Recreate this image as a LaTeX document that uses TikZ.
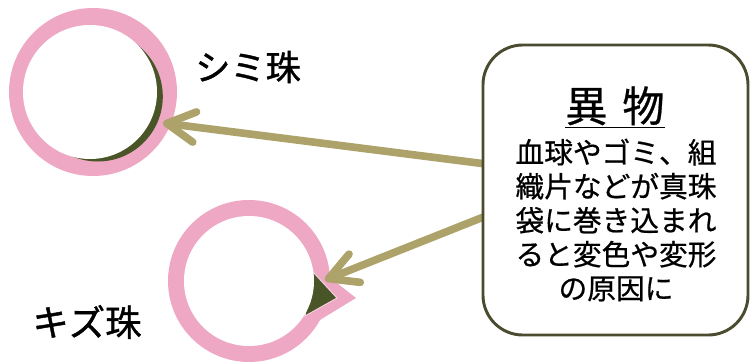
\documentclass[tikz,border=0pt]{standalone}
\usepackage{fontspec}
\setmainfont{Noto Sans CJK JP}
\newfontfamily\lblfont[FakeBold=1.2]{Noto Sans CJK JP}
\newfontfamily\bodyfont[FakeBold=0.6]{Noto Sans CJK JP}
\usetikzlibrary{arrows.meta}
\definecolor{pinkring}{HTML}{EEA8C3}
\definecolor{stain}{HTML}{4A5527}
\definecolor{arrowc}{HTML}{ADA26A}
\definecolor{boxc}{HTML}{4B4B30}
\tikzset{
  arrowline/.style={draw=arrowc, line width=6.5pt, line cap=round,
    -{Straight Barb[length=24pt,width=26pt,round]}},
  infobox/.style={draw=boxc, line width=2.5pt, rounded corners=34pt, fill=white,
    minimum width=7.95cm, minimum height=8.7cm, inner sep=0pt},
  lbl/.style={inner sep=0pt, font=\lblfont\fontsize{30}{34}\selectfont},
}
\begin{document}
\begin{tikzpicture}[x=0.03cm,y=-0.03cm]
\useasboundingbox (0,0) rectangle (750,361);
% circle 1 (stain pearl)
\fill[pinkring] (93,92) circle (84);
\fill[stain] (97.8,96.5) circle (65);
\fill[white] (90,92) circle (67);
% circle 2 (scratched pearl)
\fill[pinkring] (249,281) circle (81);
\fill[pinkring] (318,268) -- (356,298) -- (310,326) -- cycle;
\fill[stain, draw=pinkring!50, line width=0.8pt] (313,272) -- (337,298) -- (305,316) -- cycle;
\fill[white] (249,281) circle (65);
% labels
\node[lbl] (l1) at (248,67) {シミ珠};
\node[lbl, font=\lblfont\fontsize{31}{34}\selectfont] (l2) at (87,322) {キズ珠};
% arrows
\coordinate (s1) at (486,164);
\coordinate (s2) at (486,216);
\coordinate (t1) at (163,123);
\coordinate (t2) at (325,280);
\draw[arrowline] (s1) -- (t1);
\draw[arrowline] (s2) -- (t2);
% box
\node[infobox] (box) at (615.5,190) {};
\node[inner sep=0pt, font=\bodyfont\fontsize{36}{40}\selectfont] (title) at (615,107) {\underline{異\hspace{0.35em}物}};
\node[inner sep=0pt, align=center, font=\bodyfont\fontsize{24.5}{29}\selectfont] (body) at (616,220)
  {血球やゴミ、組\\織片などが真珠\\袋に巻き込まれ\\ると変色や変形\\の原因に};
\end{tikzpicture}
\end{document}
